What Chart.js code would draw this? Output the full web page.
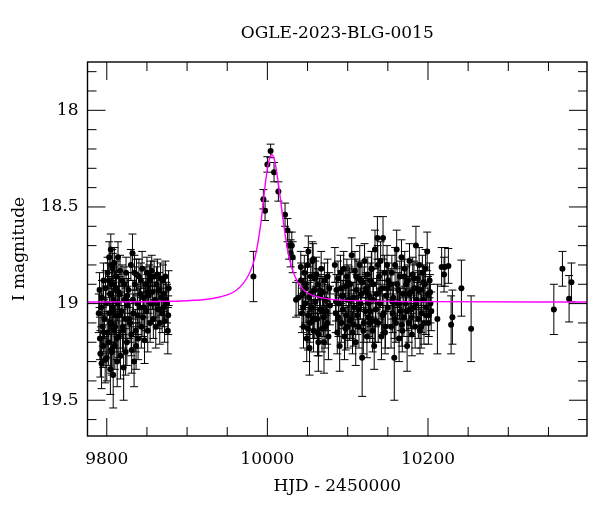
<!DOCTYPE html>
<html>
<head>
<meta charset="utf-8">
<script src="https://cdn.jsdelivr.net/npm/chart.js@4.4.0/dist/chart.umd.min.js"></script>
<style>
  html, body { margin: 0; padding: 0; background: #fff; }
</style>
</head>
<body>
<canvas id="lc" width="600" height="512"></canvas>
<script>
// photometry: HJD - 2450000, I magnitude, error
var hjd = [
  // season 1
  9790, 9791, 9791.5, 9792, 9793, 9793.5, 9794, 9795, 9795.5, 9796,
  9797, 9798, 9799, 9800.5, 9801, 9802, 9803, 9803.5, 9804, 9804.5,
  9805, 9805.5, 9806, 9806.5, 9807, 9807.5, 9808, 9808.5, 9809, 9809.5,
  9810, 9811, 9811.5, 9812, 9813, 9813.5, 9814, 9815, 9816, 9817,
  9818, 9819, 9820, 9821, 9822, 9823, 9824, 9825, 9826, 9827,
  9829, 9830, 9831, 9832, 9833, 9834, 9835, 9836, 9837, 9838,
  9839, 9840, 9841, 9842, 9843, 9844, 9845, 9846, 9847, 9848,
  9849, 9850, 9851, 9852, 9853, 9854, 9855, 9856, 9857, 9858,
  9859, 9860, 9861, 9862, 9863, 9864, 9865, 9866, 9867, 9868,
  9869, 9870, 9871, 9872, 9873, 9874, 9875, 9876, 9876.5, 9877,
  9796.5, 9798.5, 9800, 9802.5, 9804.2, 9805.8, 9806.8, 9807.8, 9808.8, 9810.5,
  9812.5, 9814.5, 9815.5, 9816.5, 9819.5, 9821.5, 9823.5, 9825.5, 9828, 9830.5,
  9832.5, 9834.5, 9836.5, 9838.5, 9842.5, 9846.5, 9850.5, 9854.5, 9862.5, 9870.5,
  // event
  9982.6, 9995.0, 9997.1, 10000.0, 10004.0, 10008.3, 10013.7, 10022.0, 10025.0, 10027.0,
  10029.0, 10030.4, 10031.5, 10035.7, 10038.6, 10041.6, 10051.0, 10057.0,
  // season 2 baseline
  10042, 10043, 10044, 10045, 10046, 10047, 10048, 10049, 10050, 10051,
  10052, 10052.5, 10053, 10054, 10055, 10056, 10057.5, 10058, 10059, 10060,
  10061, 10062, 10063, 10063.5, 10064, 10065, 10066, 10067, 10068, 10069,
  10070, 10070.5, 10071, 10072, 10073, 10074, 10075, 10076, 10077, 10078,
  10084, 10085, 10086, 10087, 10088, 10089, 10090, 10091, 10092, 10093,
  10094, 10095, 10096, 10097, 10098, 10099, 10100, 10101, 10102, 10102.5,
  10103, 10104, 10105, 10106, 10107, 10108, 10109, 10110, 10111, 10112,
  10113, 10114, 10115, 10116, 10117, 10118, 10119, 10120, 10121, 10122,
  10123, 10124, 10125, 10126, 10127, 10127.5, 10128, 10128.5, 10129, 10129.5,
  10130, 10131, 10132, 10133, 10134, 10135, 10136, 10137, 10138, 10139,
  10140, 10141, 10142, 10143, 10144, 10145, 10146, 10147, 10148, 10149,
  10150, 10150.5,
  10153, 10154, 10155, 10156, 10157, 10158, 10159, 10160, 10161, 10162,
  10163, 10164, 10165, 10166, 10167, 10168, 10169, 10170, 10171, 10172,
  10173, 10174, 10175, 10176, 10177, 10178, 10179, 10180, 10181, 10182,
  10183, 10184, 10185, 10186, 10187, 10188, 10189, 10190, 10191, 10192,
  10193, 10194, 10195, 10196, 10197, 10198, 10199, 10200, 10201, 10202, 10203,
  10044.5, 10047.5, 10050.5, 10053.5, 10056.5, 10059.5, 10062.5, 10065.5, 10068.5, 10071.5,
  10074.5, 10085.5, 10088.5, 10091.5, 10094.5, 10097.5, 10100.5, 10104.5, 10107.5, 10110.5,
  10113.5, 10116.5, 10119.5, 10122.5, 10125.5, 10131.5, 10134.5, 10137.5, 10140.5, 10143.5,
  10146.5, 10149.5, 10155.5, 10158.5, 10161.5, 10164.5, 10167.5, 10170.5, 10173.5, 10176.5,
  10179.5, 10182.5, 10185.5, 10188.5, 10191.5, 10194.5, 10197.5, 10200.5, 10202.5, 10204,
  // sparse tail
  10211.7, 10217.0, 10220.0, 10221.0, 10225.4, 10228.8, 10230.4, 10241.6, 10253.7,
  10356.7, 10367.4, 10375.7, 10378.6
];

var mag = [
  19.05, 18.93, 19.18, 19.26, 19.02, 19.31, 18.97, 19.12, 19.22, 18.88,
  19.08, 19.29, 19.00, 19.15, 18.84, 19.20, 18.76, 19.05, 18.95, 19.34,
  18.72, 19.10, 18.90, 19.25, 19.02, 18.82, 19.37, 18.98, 19.14, 18.79,
  19.22, 18.92, 19.06, 18.86, 19.30, 19.00, 18.76, 19.17, 18.95, 19.27,
  19.04, 18.88, 19.12, 19.33, 18.98, 19.08, 18.84, 19.20, 19.01, 18.93,
  19.10, 18.80, 19.24, 18.74, 19.05, 19.30, 18.90, 19.14, 18.85, 19.00,
  19.18, 18.86, 19.02, 18.95, 19.12, 18.82, 19.07, 18.97, 19.19, 18.90,
  19.04, 18.84, 19.14, 18.96, 18.88, 19.10, 19.00, 18.83, 18.94, 19.08,
  18.86, 18.98, 19.12, 18.90, 18.85, 19.03, 18.93, 19.10, 18.87, 18.97,
  19.05, 18.88, 18.95, 19.09, 18.86, 18.98, 19.00, 19.14, 19.06, 18.92,
  19.15, 18.92, 19.28, 18.88, 19.10, 19.24, 18.80, 19.04, 18.90, 19.12,
  19.18, 18.94, 19.06, 18.83, 19.14, 18.90, 19.25, 18.96, 19.08, 19.16,
  18.98, 18.84, 19.22, 19.06, 18.88, 19.02, 18.94, 18.86, 19.00, 19.02,

  18.86, 18.46, 18.52, 18.28, 18.21, 18.32, 18.42, 18.54, 18.62, 18.70,
  18.74, 18.70, 18.76, 18.98, 18.97, 18.81, 18.73, 18.77,

  18.88, 19.05, 18.95, 19.12, 18.84, 19.00, 18.92, 19.18, 18.80, 19.06,
  18.97, 19.23, 19.10, 18.86, 19.02, 18.78, 19.14, 18.93, 19.08, 18.99,
  18.85, 19.08, 18.90, 19.20, 19.16, 18.96, 19.03, 18.82, 19.13, 18.94,
  19.07, 19.20, 18.88, 19.12, 18.98, 19.04, 18.86, 19.17, 18.92, 19.01,
  18.80, 19.05, 18.93, 19.15, 18.87, 19.00, 19.22, 18.84, 19.10, 18.96,
  19.03, 18.82, 19.17, 18.91, 19.06, 18.86, 19.12, 18.98, 18.90, 19.09,
  18.90, 19.08, 18.75, 19.15, 18.97, 19.02, 18.83, 19.20, 18.93, 19.06,
  18.87, 19.12, 18.80, 19.00, 18.95, 19.28, 18.89, 19.10, 18.78, 19.04,
  18.92, 19.17, 18.85, 19.00, 18.96, 19.10, 18.88, 19.04, 19.08, 18.82,
  18.82, 19.14, 18.90, 19.22, 18.72, 19.03, 18.95, 18.66, 19.10, 18.86,
  19.00, 18.78, 19.17, 18.92, 18.66, 19.05, 18.84, 19.12, 18.96, 18.80,
  19.02, 18.88,
  18.90, 19.12, 18.84, 19.05, 18.97, 19.28, 18.80, 19.10, 18.72, 19.00,
  18.93, 19.18, 18.86, 19.04, 18.76, 19.14, 18.95, 19.07, 18.82, 19.00,
  18.90, 19.22, 18.88, 19.10, 18.78, 19.03, 18.94, 19.16, 18.85, 19.02,
  18.92, 19.12, 18.70, 18.98, 18.87, 19.08, 18.80, 19.14, 18.93, 19.05,
  18.84, 18.98, 19.10, 18.90, 18.82, 19.02, 18.73, 18.95, 19.06, 18.88, 19.00,
  19.02, 18.90, 19.13, 18.95, 19.08, 18.87, 19.15, 18.93, 19.04, 18.98,
  19.10, 18.99, 19.07, 18.92, 18.96, 19.13, 18.89, 18.98, 19.11, 18.86,
  19.03, 18.88, 19.14, 18.94, 19.07, 18.98, 19.09, 18.80, 18.93, 19.06,
  19.15, 18.92, 18.99, 19.08, 18.90, 19.00, 19.11, 18.86, 19.04, 18.95,
  19.07, 18.87, 19.00, 18.93, 19.12, 18.89, 19.06, 19.10, 18.94, 19.04,

  19.08, 18.81, 18.85, 18.81, 18.805, 19.11, 19.07, 18.92, 19.13,
  19.03, 18.82, 18.975, 18.89
];

var err = [
  0.10, 0.09, 0.11, 0.12, 0.10, 0.13, 0.09, 0.10, 0.11, 0.09,
  0.10, 0.12, 0.09, 0.11, 0.08, 0.12, 0.08, 0.10, 0.09, 0.13,
  0.08, 0.10, 0.09, 0.12, 0.10, 0.08, 0.17, 0.09, 0.11, 0.08,
  0.12, 0.09, 0.10, 0.08, 0.13, 0.09, 0.08, 0.11, 0.09, 0.12,
  0.10, 0.08, 0.11, 0.17, 0.09, 0.10, 0.08, 0.12, 0.10, 0.09,
  0.10, 0.08, 0.12, 0.10, 0.10, 0.13, 0.09, 0.11, 0.08, 0.10,
  0.11, 0.09, 0.10, 0.08, 0.11, 0.09, 0.10, 0.08, 0.12, 0.09,
  0.10, 0.08, 0.11, 0.09, 0.08, 0.10, 0.09, 0.08, 0.09, 0.10,
  0.08, 0.09, 0.11, 0.09, 0.08, 0.10, 0.09, 0.11, 0.08, 0.09,
  0.10, 0.08, 0.09, 0.11, 0.08, 0.09, 0.10, 0.12, 0.10, 0.09,
  0.10, 0.09, 0.12, 0.09, 0.10, 0.12, 0.08, 0.10, 0.09, 0.11,
  0.11, 0.09, 0.10, 0.08, 0.11, 0.09, 0.12, 0.09, 0.10, 0.11,
  0.10, 0.09, 0.12, 0.10, 0.09, 0.10, 0.09, 0.08, 0.09, 0.10,

  0.13, 0.05, 0.05, 0.04, 0.035, 0.05, 0.05, 0.06, 0.06, 0.07,
  0.07, 0.07, 0.08, 0.09, 0.09, 0.08, 0.08, 0.08,

  0.09, 0.10, 0.08, 0.11, 0.09, 0.10, 0.08, 0.12, 0.09, 0.10,
  0.08, 0.14, 0.10, 0.09, 0.08, 0.10, 0.11, 0.09, 0.10, 0.08,
  0.09, 0.10, 0.08, 0.15, 0.11, 0.09, 0.10, 0.09, 0.12, 0.08,
  0.10, 0.16, 0.09, 0.11, 0.08, 0.10, 0.09, 0.12, 0.08, 0.10,
  0.09, 0.10, 0.08, 0.11, 0.09, 0.08, 0.13, 0.09, 0.10, 0.08,
  0.10, 0.09, 0.12, 0.08, 0.10, 0.09, 0.11, 0.08, 0.09, 0.10,
  0.08, 0.10, 0.09, 0.11, 0.08, 0.09, 0.10, 0.12, 0.08, 0.10,
  0.09, 0.11, 0.10, 0.08, 0.09, 0.20, 0.08, 0.10, 0.09, 0.10,
  0.08, 0.11, 0.09, 0.10, 0.08, 0.10, 0.09, 0.08, 0.10, 0.09,
  0.09, 0.11, 0.08, 0.12, 0.10, 0.09, 0.08, 0.11, 0.10, 0.09,
  0.08, 0.10, 0.12, 0.09, 0.11, 0.10, 0.09, 0.11, 0.08, 0.10,
  0.09, 0.09,
  0.08, 0.11, 0.09, 0.10, 0.08, 0.22, 0.09, 0.10, 0.10, 0.08,
  0.09, 0.12, 0.08, 0.10, 0.09, 0.11, 0.08, 0.10, 0.09, 0.08,
  0.09, 0.13, 0.08, 0.10, 0.09, 0.10, 0.08, 0.11, 0.09, 0.10,
  0.08, 0.11, 0.10, 0.09, 0.08, 0.10, 0.09, 0.12, 0.08, 0.10,
  0.09, 0.08, 0.11, 0.09, 0.10, 0.08, 0.10, 0.09, 0.11, 0.09, 0.10,
  0.10, 0.09, 0.11, 0.09, 0.10, 0.09, 0.12, 0.08, 0.10, 0.09,
  0.11, 0.10, 0.10, 0.09, 0.08, 0.11, 0.09, 0.09, 0.11, 0.09,
  0.10, 0.09, 0.12, 0.09, 0.10, 0.09, 0.11, 0.10, 0.09, 0.10,
  0.11, 0.09, 0.09, 0.10, 0.09, 0.08, 0.11, 0.09, 0.10, 0.09,
  0.10, 0.09, 0.09, 0.10, 0.11, 0.09, 0.10, 0.11, 0.09, 0.10,

  0.18, 0.10, 0.09, 0.10, 0.09, 0.15, 0.14, 0.145, 0.17,
  0.13, 0.09, 0.12, 0.10
];

// microlensing model curve
var modelHjd = [9776, 9900, 9930, 9950, 9960, 9970, 9978, 9984, 9988, 9992,
  9995, 9998, 10001, 10003, 10005.5, 10008, 10010, 10013, 10016, 10019,
  10022, 10026, 10030, 10035, 10041, 10050, 10060, 10080, 10120, 10200, 10398];
var modelMag = [18.992, 18.985, 18.975, 18.955, 18.935, 18.895, 18.84, 18.77, 18.69, 18.58,
  18.47, 18.36, 18.28, 18.245, 18.23, 18.245, 18.28, 18.36, 18.45, 18.55,
  18.64, 18.74, 18.81, 18.865, 18.91, 18.945, 18.963, 18.978, 18.986, 18.99, 18.992];

var xTicks = [9800, 10000, 10200];
var yTicks = [18, 18.5, 19, 19.5];

var serif = '"DejaVu Serif", "Liberation Serif", serif';

var points = hjd.map(function (t, i) { return { x: t, y: mag[i] }; });
var model = modelHjd.map(function (t, i) { return { x: t, y: modelMag[i] }; });

// error bars under the points
var errorBars = {
  id: 'errorBars',
  beforeDatasetsDraw: function (chart) {
    var ctx = chart.ctx, xs = chart.scales.x, ys = chart.scales.y, a = chart.chartArea;
    ctx.save();
    ctx.beginPath();
    ctx.rect(a.left, a.top, a.right - a.left, a.bottom - a.top);
    ctx.clip();
    ctx.strokeStyle = '#000';
    ctx.lineWidth = 1;
    ctx.beginPath();
    for (var i = 0; i < hjd.length; i++) {
      var px = xs.getPixelForValue(hjd[i]);
      var y1 = ys.getPixelForValue(mag[i] - err[i]);
      var y2 = ys.getPixelForValue(mag[i] + err[i]);
      ctx.moveTo(px, y1); ctx.lineTo(px, y2);
      ctx.moveTo(px - 4, y1); ctx.lineTo(px + 4, y1);
      ctx.moveTo(px - 4, y2); ctx.lineTo(px + 4, y2);
    }
    ctx.stroke();
    ctx.restore();
  }
};

// frame, inward ticks on all sides, titles
var frame = {
  id: 'frame',
  afterDraw: function (chart) {
    var ctx = chart.ctx, xs = chart.scales.x, ys = chart.scales.y, a = chart.chartArea;
    ctx.save();
    ctx.strokeStyle = '#000';
    ctx.lineWidth = 1;
    ctx.beginPath();
    for (var v = 9800; v <= 10398; v += 50) {
      var px = xs.getPixelForValue(v);
      var len = (v % 200 === 0) ? 18 : 9;
      ctx.moveTo(px, a.bottom); ctx.lineTo(px, a.bottom - len);
      ctx.moveTo(px, a.top); ctx.lineTo(px, a.top + len);
    }
    for (var k = 178; k <= 196; k++) {
      var py = ys.getPixelForValue(k / 10);
      var l = (k % 5 === 0) ? 18 : 9;
      ctx.moveTo(a.left, py); ctx.lineTo(a.left + l, py);
      ctx.moveTo(a.right, py); ctx.lineTo(a.right - l, py);
    }
    ctx.stroke();
    ctx.lineWidth = 1.4;
    ctx.strokeRect(a.left, a.top, a.right - a.left, a.bottom - a.top);

    ctx.fillStyle = '#000';
    ctx.font = '17px ' + serif;
    ctx.textAlign = 'center';
    ctx.textBaseline = 'middle';
    var cx = (a.left + a.right) / 2;
    ctx.fillText('OGLE-2023-BLG-0015', cx, 34);
    ctx.fillText('HJD - 2450000', cx, 487);
    ctx.translate(20, (a.top + a.bottom) / 2);
    ctx.rotate(-Math.PI / 2);
    ctx.fillText('I magnitude', 0, 0);
    ctx.restore();
  }
};

function plain(v) { return String(v); }

new Chart(document.getElementById('lc').getContext('2d'), {
  type: 'scatter',
  data: {
    datasets: [
      {
        type: 'line',
        data: model,
        borderColor: '#ff00ff',
        borderWidth: 1.4,
        pointRadius: 0,
        fill: false,
        cubicInterpolationMode: 'monotone'
      },
      {
        type: 'scatter',
        data: points,
        backgroundColor: '#000',
        borderColor: '#000',
        borderWidth: 0,
        pointRadius: 3
      }
    ]
  },
  options: {
    responsive: false,
    animation: false,
    layout: { padding: { left: 0, right: 13, top: 62, bottom: 0 } },
    plugins: { legend: { display: false }, tooltip: { enabled: false } },
    scales: {
      x: {
        type: 'linear',
        min: 9776,
        max: 10398,
        grid: { display: false, drawTicks: false },
        border: { display: false },
        afterBuildTicks: function (s) { s.ticks = xTicks.map(function (v) { return { value: v }; }); },
        afterFit: function (s) { s.height = 76; },
        ticks: { color: '#000', padding: 13, maxRotation: 0, autoSkip: false, callback: plain, font: { family: serif, size: 17 } }
      },
      y: {
        reverse: true,
        min: 17.75,
        max: 19.685,
        grid: { display: false, drawTicks: false },
        border: { display: false },
        afterBuildTicks: function (s) { s.ticks = yTicks.map(function (v) { return { value: v }; }); },
        afterFit: function (s) { s.width = 87.5; },
        ticks: { color: '#000', padding: 9, autoSkip: false, callback: plain, font: { family: serif, size: 17 } }
      }
    }
  },
  plugins: [errorBars, frame]
});
</script>
</body>
</html>
